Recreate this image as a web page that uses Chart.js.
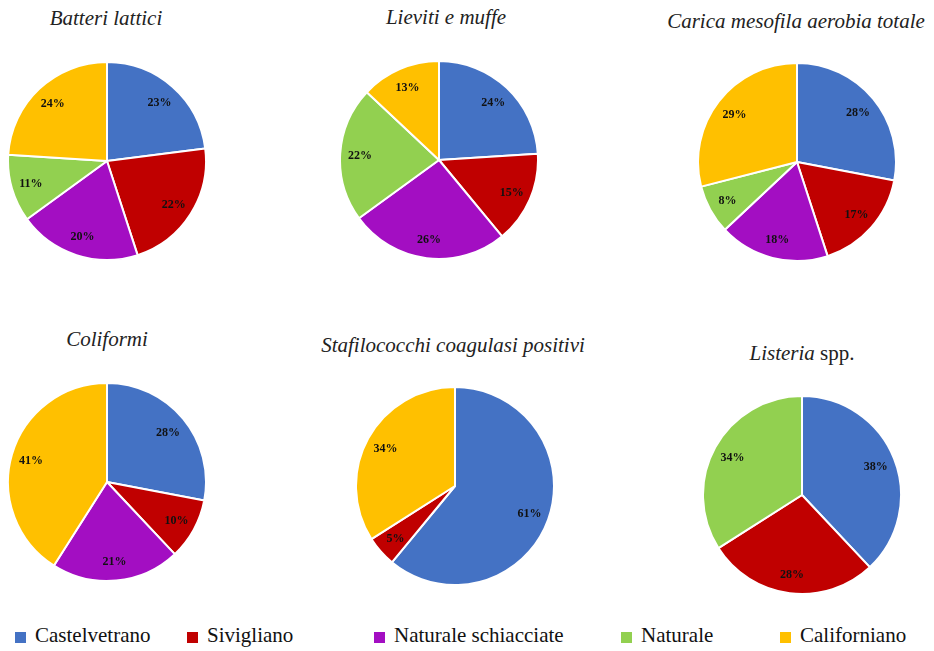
<!DOCTYPE html>
<html>
<head>
<meta charset="utf-8">
<script src="https://cdn.jsdelivr.net/npm/chart.js@4/dist/chart.umd.min.js"></script>
<style>
  body { margin: 0; background: #fff; width: 934px; height: 651px; position: relative; overflow: hidden; font-family: "Liberation Serif", "Times New Roman", serif; }
  .box { position: absolute; width: 200px; height: 200px; }
  .title { position: absolute; font-style: italic; font-size: 21px; color: #222; white-space: nowrap; transform: translate(-50%, -50%); }
  .title .up { font-style: normal; }
  .sq { position: absolute; top: 632px; width: 11px; height: 11px; }
  .lt { position: absolute; top: 625px; font-size: 21px; line-height: 21px; color: #111; white-space: nowrap; }
</style>
</head>
<body>
<div class="title" style="left:106px;top:18px">Batteri lattici</div>
<div class="title" style="left:446px;top:17px">Lieviti e muffe</div>
<div class="title" style="left:796px;top:21px">Carica mesofila aerobia totale</div>
<div class="title" style="left:107px;top:339px">Coliformi</div>
<div class="title" style="left:453px;top:345px">Stafilococchi coagulasi positivi</div>
<div class="title" style="left:802px;top:353px">Listeria <span class="up">spp.</span></div>

<div class="box" style="left:7px;top:61px"><canvas id="c1"></canvas></div>
<div class="box" style="left:339px;top:60px"><canvas id="c2"></canvas></div>
<div class="box" style="left:697px;top:62px"><canvas id="c3"></canvas></div>
<div class="box" style="left:7px;top:382px"><canvas id="c4"></canvas></div>
<div class="box" style="left:355px;top:386px"><canvas id="c5"></canvas></div>
<div class="box" style="left:702px;top:395px"><canvas id="c6"></canvas></div>

<div id="legend"></div>

<script>
// categories & colours
const categories = ['Castelvetrano', 'Sivigliano', 'Naturale schiacciate', 'Naturale', 'Californiano'];
const colors = ['#4472C4', '#C00000', '#A30EC2', '#92D050', '#FFC000'];

// percentages per group (same category order)
const batteriLattici = [23, 22, 20, 11, 24];
const lievitiMuffe = [24, 15, 26, 22, 13];
const caricaMesofila = [28, 17, 18, 8, 29];
const coliformi = [28, 10, 21, 0, 41];
const stafilococchi = [61, 5, 0, 0, 34];
const listeria = [38, 28, 0, 34, 0];

const legendX = [15, 187, 374, 621, 780];

// draw % labels inside slices
const sliceLabels = {
    id: 'sliceLabels',
    afterDatasetsDraw(chart) {
        const ctx = chart.ctx;
        const meta = chart.getDatasetMeta(0);
        const data = chart.data.datasets[0].data;
        ctx.save();
        ctx.font = 'bold 12px "Liberation Serif", "Times New Roman", serif';
        ctx.fillStyle = '#111';
        ctx.textAlign = 'center';
        ctx.textBaseline = 'middle';
        meta.data.forEach((arc, i) => {
            if (!data[i]) return;
            const p = arc.getProps(['x', 'y', 'startAngle', 'endAngle', 'outerRadius'], true);
            const a = (p.startAngle + p.endAngle) / 2;
            const r = p.outerRadius * 0.8;
            ctx.fillText(data[i] + '%', p.x + Math.cos(a) * r, p.y + Math.sin(a) * r + 1);
        });
        ctx.restore();
    }
};

function makePie(id, values) {
    new Chart(document.getElementById(id), {
        type: 'pie',
        data: {
            labels: categories,
            datasets: [{
                data: values,
                backgroundColor: colors,
                borderColor: '#ffffff',
                borderWidth: 2,
                hoverOffset: 0
            }]
        },
        options: {
            responsive: true,
            maintainAspectRatio: false,
            animation: false,
            layout: { padding: 0 },
            plugins: { legend: { display: false }, tooltip: { enabled: false } }
        },
        plugins: [sliceLabels]
    });
}

makePie('c1', batteriLattici);
makePie('c2', lievitiMuffe);
makePie('c3', caricaMesofila);
makePie('c4', coliformi);
makePie('c5', stafilococchi);
makePie('c6', listeria);

// legend
const legendEl = document.getElementById('legend');
categories.forEach((name, i) => {
    const sq = document.createElement('div');
    sq.className = 'sq';
    sq.style.left = legendX[i] + 'px';
    sq.style.background = colors[i];
    const t = document.createElement('div');
    t.className = 'lt';
    t.style.left = (legendX[i] + 20) + 'px';
    t.textContent = name;
    legendEl.appendChild(sq);
    legendEl.appendChild(t);
});
</script>
</body>
</html>
